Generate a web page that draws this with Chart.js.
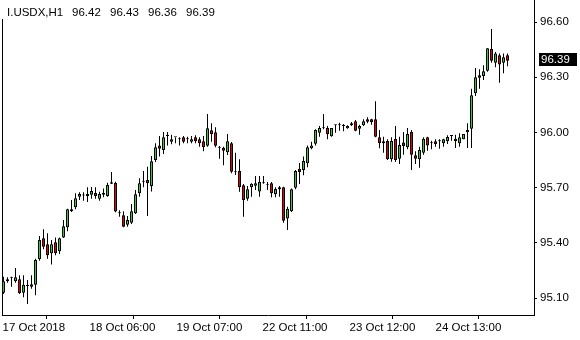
<!DOCTYPE html>
<html>
<head>
<meta charset="utf-8">
<script src="https://cdn.jsdelivr.net/npm/chart.js@4/dist/chart.umd.min.js"></script>
<style>
html,body{margin:0;padding:0;background:#fff;}
#wrap{width:580px;height:340px;position:relative;}
</style>
</head>
<body>
<div id="wrap"><canvas id="c" width="580" height="340"></canvas></div>
<script>
// ---- data ----
const symbolTitle = 'I.USDX,H1';
const timeLabels = ['17 Oct 2018', '18 Oct 06:00', '19 Oct 07:00', '22 Oct 11:00', '23 Oct 12:00', '24 Oct 13:00'];
const timeLabelBar = [-0.25, 21.5, 43.25, 64.75, 86.5, 108];
const priceTicks = [95.10, 95.40, 95.70, 96.00, 96.30, 96.60];

const open = [95.129,95.202,95.208,95.191,95.202,95.129,95.166,95.175,95.173,95.311,
95.425,95.392,95.344,95.403,95.354,95.430,95.485,95.572,95.594,95.651,
95.657,95.666,95.662,95.671,95.640,95.662,95.655,95.722,95.726,95.561,
95.550,95.499,95.510,95.561,95.670,95.733,95.742,95.709,95.851,95.930,
95.905,95.981,95.950,95.974,95.963,95.974,95.963,95.950,95.974,95.963,
95.952,95.928,96.012,96.001,95.917,95.917,95.892,95.941,95.784,95.791,
95.713,95.640,95.702,95.711,95.680,95.724,95.713,95.724,95.664,95.702,
95.702,95.532,95.572,95.700,95.802,95.796,95.833,95.914,95.939,95.999,
96.023,96.024,95.979,96.039,96.039,96.035,96.023,96.039,96.061,96.021,
96.039,96.072,96.072,96.072,95.974,95.952,95.954,95.854,95.965,95.858,
95.945,95.920,96.003,95.876,95.854,95.890,95.974,95.941,95.952,95.952,
95.941,95.952,95.981,95.966,95.941,95.963,96.001,96.021,96.213,96.311,
96.307,96.336,96.454,96.379,96.420,96.379,96.420];

const high = [95.216,95.213,95.216,95.264,95.224,95.224,95.198,95.224,95.314,95.438,
95.474,95.452,95.416,95.430,95.430,95.524,95.586,95.633,95.670,95.675,
95.675,95.702,95.704,95.702,95.678,95.695,95.727,95.785,95.733,95.577,
95.572,95.546,95.611,95.688,95.751,95.791,95.814,95.872,95.941,95.981,
96.003,96.003,95.988,95.974,95.974,95.981,95.977,95.981,95.985,95.974,
95.981,96.101,96.050,96.028,95.927,95.923,95.992,95.948,95.890,95.854,
95.720,95.709,95.724,95.764,95.764,95.764,95.731,95.731,95.702,95.709,
95.705,95.597,95.695,95.796,95.834,95.869,95.930,95.950,96.017,96.035,
96.101,96.035,96.024,96.042,96.053,96.046,96.039,96.057,96.068,96.042,
96.072,96.083,96.075,96.170,96.014,95.977,95.963,95.974,96.035,95.977,
96.003,96.024,96.014,95.898,95.923,95.974,95.977,95.955,95.963,95.963,
95.966,95.985,95.981,95.988,95.996,95.992,96.050,96.238,96.351,96.344,
96.365,96.458,96.563,96.438,96.430,96.430,96.430];

const low = [95.122,95.184,95.162,95.184,95.122,95.104,95.068,95.151,95.115,95.303,
95.365,95.314,95.282,95.333,95.340,95.427,95.463,95.568,95.583,95.633,
95.629,95.622,95.640,95.640,95.629,95.648,95.651,95.720,95.566,95.542,
95.485,95.488,95.503,95.557,95.651,95.702,95.546,95.680,95.840,95.869,
95.883,95.930,95.936,95.941,95.930,95.941,95.941,95.941,95.941,95.923,
95.898,95.923,95.950,95.920,95.858,95.822,95.878,95.778,95.769,95.678,
95.542,95.629,95.651,95.688,95.651,95.722,95.688,95.648,95.648,95.651,
95.510,95.470,95.568,95.691,95.720,95.767,95.811,95.909,95.930,95.977,
96.017,95.963,95.977,95.999,96.010,96.007,96.021,96.035,96.007,95.988,
96.035,96.050,96.042,95.974,95.914,95.890,95.851,95.841,95.840,95.829,
95.879,95.909,95.796,95.829,95.809,95.879,95.901,95.909,95.923,95.912,
95.923,95.938,95.955,95.916,95.923,95.963,95.916,95.916,96.198,96.238,
96.285,96.330,96.379,96.354,96.271,96.322,96.360];

const close = [95.191,95.191,95.208,95.213,95.126,95.173,95.166,95.162,95.307,95.416,
95.379,95.333,95.392,95.344,95.425,95.490,95.583,95.583,95.642,95.666,
95.657,95.655,95.682,95.655,95.666,95.671,95.715,95.729,95.570,95.561,
95.488,95.524,95.572,95.664,95.724,95.733,95.724,95.844,95.920,95.912,
95.974,95.981,95.963,95.974,95.963,95.950,95.963,95.963,95.952,95.941,
95.920,96.023,95.990,95.928,95.917,95.901,95.952,95.787,95.784,95.702,
95.633,95.691,95.722,95.724,95.731,95.724,95.713,95.670,95.693,95.691,
95.521,95.586,95.691,95.791,95.785,95.845,95.920,95.930,96.014,96.024,
96.023,95.990,96.024,96.039,96.039,96.035,96.035,96.050,96.010,96.035,
96.061,96.059,96.057,95.977,95.941,95.941,95.854,95.954,95.851,95.932,
95.927,95.992,95.879,95.858,95.905,95.966,95.930,95.941,95.938,95.952,
95.963,95.976,95.981,95.952,95.974,95.992,96.014,96.202,96.300,96.298,
96.333,96.458,96.390,96.430,96.369,96.409,96.390];

// ---- build datasets ----
const bull = '#32cd32', bear = '#e60000', neutral = '#000000';
const wickData = high.map((h, i) => ({x: i, y: [low[i], h]}));
const bodyData = open.map((o, i) => ({x: i, y: [Math.min(o, close[i]), Math.max(o, close[i])]}));
const bodyColors = open.map((o, i) => close[i] > o ? bull : (close[i] < o ? bear : neutral));

const last = close.length - 1;
const fmt = v => v.toFixed(2);
const lastBar = [open[last], high[last], low[last], close[last]].map(fmt);

const FONT = '"Liberation Sans", Arial, sans-serif';
const FSIZE = 11.5;

const overlay = {
  id: 'overlay',
  afterDraw(chart) {
    const ctx = chart.ctx;
    const y = chart.scales.y;
    ctx.save();
    // title block
    ctx.fillStyle = '#fff';
    ctx.fillRect(0, 0, 222, 19);
    ctx.fillStyle = '#000';
    ctx.font = FSIZE + 'px ' + FONT;
    ctx.textBaseline = 'middle';
    ctx.textAlign = 'left';
    ctx.fillText(symbolTitle, 7, 13);
    lastBar.forEach((t, k) => ctx.fillText(t, 72 + 38 * k, 13));
    // current price tag
    const py = Math.round(y.getPixelForValue(close[last]));
    ctx.fillStyle = '#000';
    ctx.fillRect(539, py - 8, 38, 13);
    ctx.fillStyle = '#fff';
    ctx.fillText(fmt(close[last]), 541, py - 1);
    ctx.restore();
  }
};

new Chart(document.getElementById('c'), {
  type: 'bar',
  data: {
    datasets: [
      {
        data: bodyData,
        backgroundColor: bodyColors,
        borderColor: '#000',
        borderWidth: 1,
        borderSkipped: false,
        barThickness: 3,
        minBarLength: 1,
        inflateAmount: 0,
        grouped: false,
        order: 0
      },
      {
        data: wickData,
        backgroundColor: '#000',
        borderWidth: 0,
        barThickness: 1,
        inflateAmount: 0,
        grouped: false,
        order: 1
      }
    ]
  },
  options: {
    responsive: false,
    devicePixelRatio: 1,
    animation: false,
    layout: {padding: 0},
    plugins: {legend: {display: false}, tooltip: {enabled: false}},
    scales: {
      x: {
        type: 'linear',
        position: 'bottom',
        min: -0.375,
        max: 132.625,
        offset: false,
        afterBuildTicks: s => { s.ticks = timeLabelBar.map(v => ({value: v})); },
        afterFit: s => { s.height = 25; s.paddingLeft = 0; s.paddingRight = 0; },
        grid: {drawOnChartArea: false, drawTicks: true, tickLength: 4, tickColor: '#000', tickWidth: 1},
        border: {display: true, color: '#000', width: 1},
        ticks: {
          autoSkip: false, maxRotation: 0, minRotation: 0, align: 'start', padding: 2,
          color: '#000', font: {family: FONT, size: FSIZE},
          callback: (v, i) => timeLabels[i]
        }
      },
      y: {
        type: 'linear',
        position: 'right',
        min: 96.7201 - 315 / 184,
        max: 96.7201,
        afterBuildTicks: s => { s.ticks = priceTicks.map(v => ({value: v})); },
        afterFit: s => { s.width = 46; s.paddingTop = 0; s.paddingBottom = 0; },
        grid: {drawOnChartArea: false, drawTicks: true, tickLength: 3, tickColor: '#000', tickWidth: 1},
        border: {display: true, color: '#000', width: 1},
        ticks: {
          padding: 3, color: '#000', font: {family: FONT, size: FSIZE},
          callback: v => Number(v).toFixed(2)
        }
      },
      yl: {
        type: 'linear',
        position: 'left',
        min: 0, max: 1,
        afterFit: s => { s.width = 2; s.paddingTop = 0; s.paddingBottom = 0; },
        grid: {display: false, drawTicks: false},
        border: {display: true, color: '#000', width: 1},
        ticks: {display: false}
      }
    }
  },
  plugins: [overlay]
});
</script>
</body>
</html>
